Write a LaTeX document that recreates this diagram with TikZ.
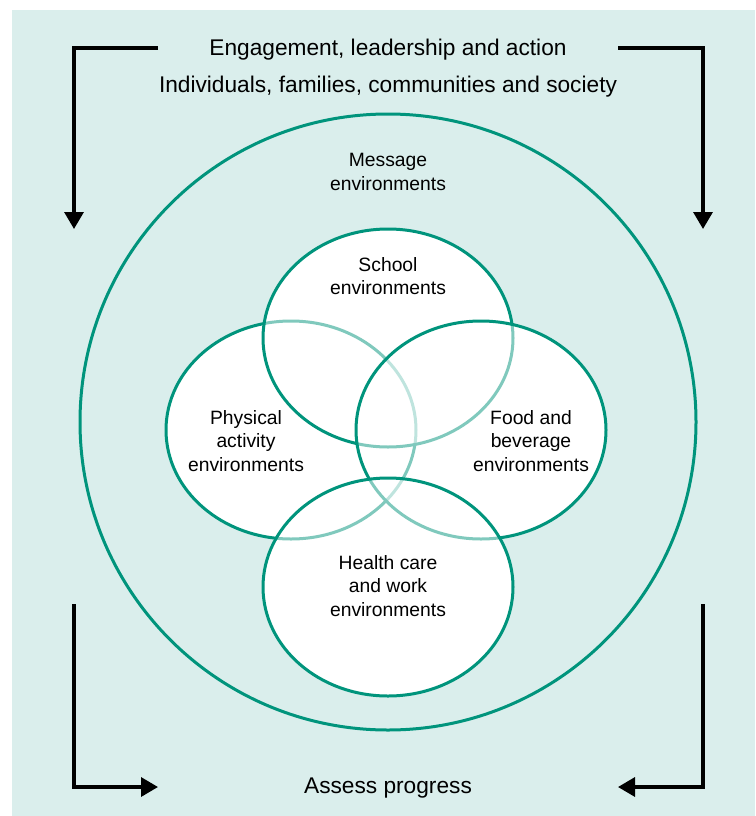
\documentclass[tikz,border=0pt]{standalone}
\usepackage{fontspec}
\setmainfont{Liberation Sans}
\usetikzlibrary{arrows.meta,positioning}
\definecolor{panelbg}{RGB}{218,238,236}
\definecolor{venngreen}{RGB}{0,148,124}

\begin{document}
\begin{tikzpicture}[x=1pt, y=-1pt, node distance=37pt, on grid]
  \tikzstyle{ring} = [draw=venngreen, line width=3pt];
  \tikzstyle{veil} = [fill=white, fill opacity=0.5];
  \tikzstyle{flowArrow} = [black, line width=3.3pt, -{Triangle[length=17pt,width=19pt]}];
  \tikzstyle{bigLabel} = [inner sep=0pt, font={\fontsize{22.7}{27}\selectfont}];
  \tikzstyle{envLabel} = [inner sep=0pt, align=center, font={\fontsize{19.3}{23.5}\selectfont}];

  \useasboundingbox (0,0) rectangle (755,816);
  \fill[panelbg] (12,10) rectangle (755,816);

  \draw[ring] (388,422) circle (308pt);

  \coordinate (phys) at (291,430);
  \coordinate (school) at (388,338);
  \coordinate (food) at (481,430);
  \coordinate (health) at (388,587);

  % white under all four, then each one veils the lines drawn before it
  \foreach \c in {phys,school,food,health}
    \fill[white] (\c) ellipse [x radius=125pt, y radius=109pt];
  \foreach \c in {phys,school,food,health}{
    \fill[veil] (\c) ellipse [x radius=125pt, y radius=109pt];
    \draw[ring] (\c) ellipse [x radius=125pt, y radius=109pt];
  }

  \node[bigLabel](engage) at (388,50) {Engagement, leadership and action};
  \node[bigLabel](people) [below=of engage] {Individuals, families, communities and society};
  \node[bigLabel](assess) at (388,788) {Assess progress};

  \node[envLabel](msg) at (388,172) {Message\\environments};
  \node[envLabel](schoolTxt) at (388,276) {School\\environments};
  \node[envLabel](physTxt) at (246,441) {Physical\\activity\\environments};
  \node[envLabel](foodTxt) at (531,441) {Food and\\beverage\\environments};
  \node[envLabel](healthTxt) at (388,586) {Health care\\and work\\environments};

  \coordinate (tlStart) at (158,48);
  \coordinate (tlEnd) at (74,229);
  \coordinate (trStart) at (618,48);
  \coordinate (trEnd) at (703,229);
  \coordinate (blStart) at (74,604);
  \coordinate (blEnd) at (158,787);
  \coordinate (brStart) at (703,604);
  \coordinate (brEnd) at (618,787);

  \draw[flowArrow] (tlStart) -| (tlEnd);
  \draw[flowArrow] (trStart) -| (trEnd);
  \draw[flowArrow] (blStart) |- (blEnd);
  \draw[flowArrow] (brStart) |- (brEnd);
\end{tikzpicture}
\end{document}
